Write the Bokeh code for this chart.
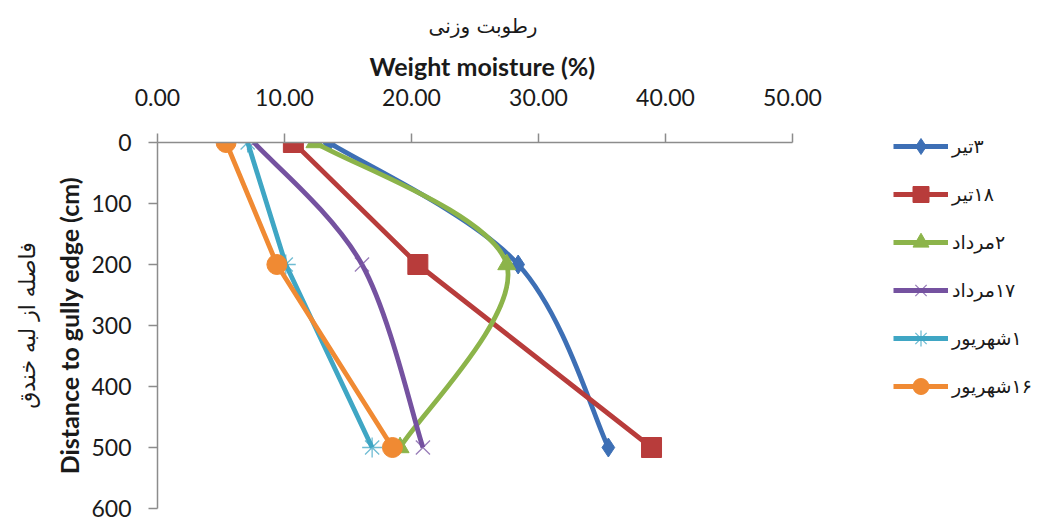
from bokeh.plotting import figure
from bokeh.models import (Range1d, FixedTicker, PrintfTickFormatter, Legend,
                          LegendItem, Title, ColumnDataSource)
from bokeh.embed import file_html
from bokeh.resources import INLINE

# ---------------- data ----------------
depth = [0, 200, 500]                      # distance to gully edge (cm)
s_3tir = [13.5, 28.4, 35.5]
s_18tir = [10.7, 20.5, 38.9]
s_2mordad = [12.4, 27.5, 19.1]
s_17mordad = [7.6, 16.1, 20.9]
s_1shahrivar = [7.1, 10.1, 16.9]
s_16shahrivar = [5.4, 9.4, 18.5]

RLM = "\u200f"
labels = [RLM + "۳تیر", RLM + "۱۸تیر", RLM + "۲مرداد", RLM + "۱۷مرداد",
          RLM + "۱شهریور", RLM + "۱۶شهریور"]
x_ticks = [0, 10, 20, 30, 40, 50]
y_ticks = [0, 100, 200, 300, 400, 500, 600]

series = [s_3tir, s_18tir, s_2mordad, s_17mordad, s_1shahrivar, s_16shahrivar]
colors = ["#3D6FB5", "#B83C3B", "#8CB44A", "#7552A0", "#3FA6C4", "#F08A33"]
markers = ["diamond", "square", "triangle", "x", "asterisk", "circle"]
msizes = [19, 20, 18, 20, 20, 20]
smooth = [True, False, True, True, False, False]

FONT = "Lato"
AR_FONT = "DejaVu Sans"


def bezier_src(xs, ys):
    """Excel-like smoothed line: cubic Bezier control points from the points."""
    n = len(xs)
    d = dict(x0=[], y0=[], x1=[], y1=[], cx0=[], cy0=[], cx1=[], cy1=[])
    for i in range(n - 1):
        a = i - 1 if i > 0 else i
        b = i + 2 if i + 2 < n else i + 1
        d["x0"].append(xs[i]); d["y0"].append(ys[i])
        d["x1"].append(xs[i + 1]); d["y1"].append(ys[i + 1])
        d["cx0"].append(xs[i] + (xs[i + 1] - xs[a]) / 6)
        d["cy0"].append(ys[i] + (ys[i + 1] - ys[a]) / 6)
        d["cx1"].append(xs[i + 1] - (xs[b] - xs[i]) / 6)
        d["cy1"].append(ys[i + 1] - (ys[b] - ys[i]) / 6)
    return ColumnDataSource(d)


p = figure(frame_width=635, frame_height=366,
           min_border_left=157, min_border_right=258,
           min_border_top=142, min_border_bottom=10,
           x_range=Range1d(0, 50), y_range=Range1d(600, 0),
           x_axis_location="above", output_backend="svg",
           toolbar_location=None, title=None)
p.outline_line_color = None
p.xgrid.visible = False
p.ygrid.visible = False
p.background_fill_color = "white"
p.border_fill_color = "white"

axc = "#8C8C8C"
for ax in (p.xaxis[0], p.yaxis[0]):
    ax.axis_line_color = axc
    ax.axis_line_width = 1.5
    ax.major_tick_line_color = axc
    ax.major_tick_line_width = 1.5
    ax.major_tick_out = 9
    ax.major_tick_in = 0
    ax.minor_tick_out = 0
    ax.minor_tick_in = 0
    ax.major_label_text_font = FONT
    ax.major_label_text_font_size = "23px"
    ax.major_label_text_color = "#1a1a1a"

p.xaxis.ticker = FixedTicker(ticks=x_ticks)
p.xaxis.formatter = PrintfTickFormatter(format="%.2f")
p.xaxis.major_label_standoff = 28

p.yaxis.ticker = FixedTicker(ticks=y_ticks)
p.yaxis.major_label_standoff = 17
p.yaxis.axis_label = "Distance to gully edge (cm)"
p.yaxis.axis_label_text_font = FONT
p.yaxis.axis_label_text_font_style = "bold"
p.yaxis.axis_label_text_font_size = "25px"
p.yaxis.axis_label_text_color = "#1a1a1a"
p.yaxis.axis_label_standoff = 4

t_en = Title(text="Weight moisture (%)", align="left", offset=212,
             text_font=FONT, text_font_style="bold", text_font_size="25px",
             text_color="#1a1a1a", standoff=10)
t_fa = Title(text="رطوبت وزنی", align="left", offset=271,
             text_font=AR_FONT, text_font_style="normal", text_font_size="20px",
             text_color="#1a1a1a", standoff=12)
p.add_layout(t_en, "above")
p.add_layout(t_fa, "above")
t_left = Title(text="فاصله از لبه خندق", align="center", vertical_align="top",
               text_font=AR_FONT, text_font_style="normal", text_font_size="22px",
               text_color="#1a1a1a", standoff=20)
p.add_layout(t_left, "left")

items = []
for vals, col, mk, ms, sm, lab in zip(series, colors, markers, msizes, smooth, labels):
    if sm:
        r_line = p.bezier(x0="x0", y0="y0", x1="x1", y1="y1", cx0="cx0", cy0="cy0",
                          cx1="cx1", cy1="cy1", source=bezier_src(vals, depth),
                          line_color=col, line_width=4.8)
    else:
        r_line = p.line(vals, depth, line_color=col, line_width=4.8)
    thin = mk in ("x", "asterisk")
    r_mk = p.scatter(vals, depth, marker=mk, size=ms,
                     fill_color=col, line_color=col,
                     line_width=1.3 if thin else 1,
                     line_alpha=0.75 if thin else 1.0)
    items.append(LegendItem(label=lab, renderers=[r_line, r_mk]))

legend = Legend(items=items, location=(101, 102), orientation="vertical",
                glyph_width=55, glyph_height=40, label_height=40, spacing=8,
                padding=0, margin=0, border_line_color=None,
                background_fill_alpha=0, label_standoff=4,
                label_text_font=AR_FONT, label_text_font_size="19px",
                label_text_color="#1a1a1a")
p.add_layout(legend, "right")

open("out.html", "w").write(file_html(p, INLINE))
